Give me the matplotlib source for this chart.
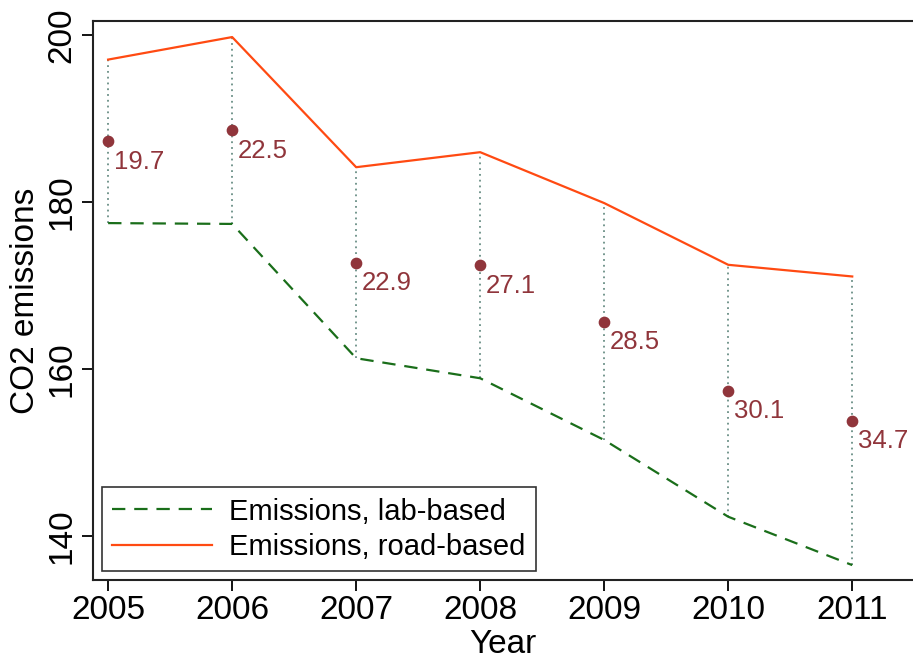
import numpy as np
import matplotlib
matplotlib.use('Agg')
import matplotlib.pyplot as plt

plt.rcParams['font.family'] = ['Liberation Sans', 'DejaVu Sans']

years = [2005, 2006, 2007, 2008, 2009, 2010, 2011]
road = [197.1, 199.8, 184.2, 186.0, 179.9, 172.5, 171.1]
lab = [177.5, 177.4, 161.3, 158.9, 151.5, 142.3, 136.5]
gap_labels = ['19.7', '22.5', '22.9', '27.1', '28.5', '30.1', '34.7']

yrs = np.array(years)
road_a = np.array(road)
lab_a = np.array(lab)
mid = (road_a + lab_a) / 2

fig = plt.figure(figsize=(9.13, 6.63), dpi=100)
ax = fig.add_axes([0.102, 0.125, 0.898, 0.843])

ax.vlines(yrs, lab_a, road_a, colors='#6a8f86', linestyles=(0, (1, 2.2)), linewidth=1.3, zorder=1)
ax.plot(yrs, lab_a, color='#1a6e1a', linestyle=(0, (6, 4)), linewidth=1.6, label='Emissions, lab-based', zorder=2)
ax.plot(yrs, road_a, color='#ff4a12', linewidth=1.6, label='Emissions, road-based', zorder=2)
ax.scatter(yrs, mid, s=55, color='#90353b', zorder=3)
for x, y, t in zip(yrs, mid, gap_labels):
    ax.annotate(t, (x, y), xytext=(4, -6), textcoords='offset points',
                ha='left', va='top', fontsize=18.5, color='#90353b')

ax.set_xlim(2004.879, 2011.49)
ax.set_ylim(134.7, 201.7)
ax.set_xticks(years)
ax.set_yticks([140, 160, 180, 200])
ax.tick_params(axis='both', labelsize=24, length=8, width=1.3, direction='out')
ax.tick_params(axis='x', pad=3)
for lab_t in ax.get_yticklabels():
    lab_t.set_rotation(90)
    lab_t.set_va('center')
ax.spines['right'].set_visible(False)
for s in ['left', 'top', 'bottom']:
    ax.spines[s].set_linewidth(1.5)
    ax.spines[s].set_color('#222222')

ax.set_xlabel('Year', fontsize=24)
ax.set_ylabel('CO2 emissions', fontsize=24)
ax.xaxis.set_label_coords(0.5, -0.088)
ax.yaxis.set_label_coords(-0.064, 0.5)

leg = ax.legend(loc='lower left', fontsize=21, frameon=True, fancybox=False,
                edgecolor='black', handlelength=3.4, handletextpad=0.6,
                borderpad=0.35, labelspacing=0.25, borderaxespad=0,
                bbox_to_anchor=(0.011, 0.016))
leg.get_frame().set_linewidth(1.2)

fig.savefig('out.png', dpi=100)
